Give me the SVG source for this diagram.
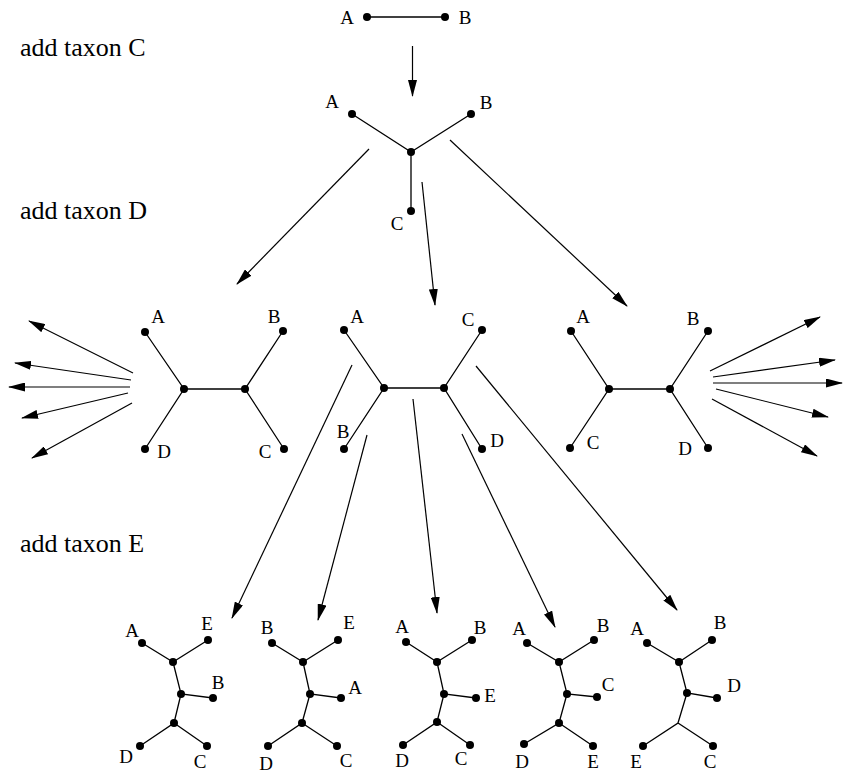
<svg xmlns="http://www.w3.org/2000/svg" width="844" height="774" viewBox="0 0 844 774">
  <style>
    .edge { stroke: #000; stroke-width: 1.3; fill: none; }
    .arrow { stroke: #000; stroke-width: 1.2; fill: none; marker-end: url(#head); }
    .dot { fill: #000; }
    .lbl { font-family: "Liberation Serif", "Times New Roman", serif; font-size: 19px; fill: #000; text-anchor: middle; }
    .step { font-family: "Liberation Serif", "Times New Roman", serif; font-size: 26px; fill: #000; }
  </style>
  <defs>
    <marker id="head" markerWidth="17" markerHeight="9" refX="16" refY="4.5" orient="auto" markerUnits="userSpaceOnUse">
      <path d="M0,0 L17,4.5 L0,9 Z" fill="#000"/>
    </marker>
  </defs>
  <rect width="844" height="774" fill="#fff"/>

  <!-- step captions -->
  <text class="step" x="20" y="56">add taxon C</text>
  <text class="step" x="20" y="219">add taxon D</text>
  <text class="step" x="20" y="552">add taxon E</text>

  <!-- two-taxon tree -->
  <g id="tree-ab">
    <line class="edge" x1="367" y1="17" x2="445" y2="17"/>
    <circle class="dot" cx="367" cy="17" r="4"/>
    <circle class="dot" cx="445" cy="17" r="4"/>
    <text class="lbl" x="347" y="24">A</text>
    <text class="lbl" x="465" y="24">B</text>
  </g>

  <!-- three-taxon tree -->
  <g id="tree-abc">
    <path class="edge" d="M352,114 L411,152 L471,114 M411,152 L411,211"/>
    <circle class="dot" cx="352" cy="114" r="4"/>
    <circle class="dot" cx="471" cy="114" r="4"/>
    <circle class="dot" cx="411" cy="152" r="4"/>
    <circle class="dot" cx="411" cy="211" r="4"/>
    <text class="lbl" x="332" y="108">A</text>
    <text class="lbl" x="486" y="109">B</text>
    <text class="lbl" x="397" y="230">C</text>
  </g>

  <!-- four-taxon trees -->
  <g id="tree-ad-bc">
    <path class="edge" d="M145,332 L184,389 L145,449 M184,389 L245,389 M283,331 L245,389 L284,449"/>
    <circle class="dot" cx="145" cy="332" r="4"/>
    <circle class="dot" cx="283" cy="331" r="4"/>
    <circle class="dot" cx="184" cy="389" r="4"/>
    <circle class="dot" cx="245" cy="389" r="4"/>
    <circle class="dot" cx="145" cy="449" r="4"/>
    <circle class="dot" cx="284" cy="449" r="4"/>
    <text class="lbl" x="158" y="323">A</text>
    <text class="lbl" x="274" y="323">B</text>
    <text class="lbl" x="164" y="458">D</text>
    <text class="lbl" x="265" y="458">C</text>
  </g>

  <g id="tree-ab-cd">
    <path class="edge" d="M344,330 L384,388 L344,449 M384,388 L444,388 M482,330 L444,388 L482,449"/>
    <circle class="dot" cx="344" cy="330" r="4"/>
    <circle class="dot" cx="482" cy="330" r="4"/>
    <circle class="dot" cx="384" cy="388" r="4"/>
    <circle class="dot" cx="444" cy="388" r="4"/>
    <circle class="dot" cx="344" cy="449" r="4"/>
    <circle class="dot" cx="482" cy="449" r="4"/>
    <text class="lbl" x="357" y="323">A</text>
    <text class="lbl" x="468" y="326">C</text>
    <text class="lbl" x="343" y="438">B</text>
    <text class="lbl" x="497" y="447">D</text>
  </g>

  <g id="tree-ac-bd">
    <path class="edge" d="M571,331 L609,389 L570,448 M609,389 L670,389 M708,331 L670,389 L708,448"/>
    <circle class="dot" cx="571" cy="331" r="4"/>
    <circle class="dot" cx="708" cy="331" r="4"/>
    <circle class="dot" cx="609" cy="389" r="4"/>
    <circle class="dot" cx="670" cy="389" r="4"/>
    <circle class="dot" cx="570" cy="448" r="4"/>
    <circle class="dot" cx="708" cy="448" r="4"/>
    <text class="lbl" x="583" y="323">A</text>
    <text class="lbl" x="693" y="325">B</text>
    <text class="lbl" x="593" y="449">C</text>
    <text class="lbl" x="685" y="455">D</text>
  </g>

  <!-- five-taxon trees -->
  <g id="tree-e1">
    <path class="edge" d="M142,643 L173,662 L208,640 M173,662 L181,694 L213,698 M181,694 L174,723 L140,746 M174,723 L207,746"/>
    <circle class="dot" cx="142" cy="643" r="4"/>
    <circle class="dot" cx="208" cy="640" r="4"/>
    <circle class="dot" cx="173" cy="662" r="4"/>
    <circle class="dot" cx="181" cy="694" r="4"/>
    <circle class="dot" cx="213" cy="698" r="4"/>
    <circle class="dot" cx="174" cy="723" r="4"/>
    <circle class="dot" cx="140" cy="746" r="4"/>
    <circle class="dot" cx="207" cy="746" r="4"/>
    <text class="lbl" x="132" y="637">A</text>
    <text class="lbl" x="207" y="630">E</text>
    <text class="lbl" x="218" y="689">B</text>
    <text class="lbl" x="126" y="763">D</text>
    <text class="lbl" x="200" y="768">C</text>
  </g>

  <g id="tree-e2">
    <path class="edge" d="M272,643 L303,662 L338,640 M303,662 L310,694 L341,698 M310,694 L302,723 L268,746 M302,723 L337,746"/>
    <circle class="dot" cx="272" cy="643" r="4"/>
    <circle class="dot" cx="338" cy="640" r="4"/>
    <circle class="dot" cx="303" cy="662" r="4"/>
    <circle class="dot" cx="310" cy="694" r="4"/>
    <circle class="dot" cx="341" cy="698" r="4"/>
    <circle class="dot" cx="302" cy="723" r="4"/>
    <circle class="dot" cx="268" cy="746" r="4"/>
    <circle class="dot" cx="337" cy="746" r="4"/>
    <text class="lbl" x="267" y="634">B</text>
    <text class="lbl" x="349" y="629">E</text>
    <text class="lbl" x="355" y="694">A</text>
    <text class="lbl" x="266" y="770">D</text>
    <text class="lbl" x="346" y="767">C</text>
  </g>

  <g id="tree-e3">
    <path class="edge" d="M406,642 L437,662 L472,640 M437,662 L444,694 L476,698 M444,694 L437,722 L403,745 M437,722 L470,745"/>
    <circle class="dot" cx="406" cy="642" r="4"/>
    <circle class="dot" cx="472" cy="640" r="4"/>
    <circle class="dot" cx="437" cy="662" r="4"/>
    <circle class="dot" cx="444" cy="694" r="4"/>
    <circle class="dot" cx="476" cy="698" r="4"/>
    <circle class="dot" cx="437" cy="722" r="4"/>
    <circle class="dot" cx="403" cy="745" r="4"/>
    <circle class="dot" cx="470" cy="745" r="4"/>
    <text class="lbl" x="402" y="633">A</text>
    <text class="lbl" x="480" y="634">B</text>
    <text class="lbl" x="490" y="702">E</text>
    <text class="lbl" x="402" y="767">D</text>
    <text class="lbl" x="461" y="765">C</text>
  </g>

  <g id="tree-e4">
    <path class="edge" d="M527,643 L559,662 L594,640 M559,662 L567,694 L597,697 M567,694 L559,723 L524,744 M559,723 L593,746"/>
    <circle class="dot" cx="527" cy="643" r="4"/>
    <circle class="dot" cx="594" cy="640" r="4"/>
    <circle class="dot" cx="559" cy="662" r="4"/>
    <circle class="dot" cx="567" cy="694" r="4"/>
    <circle class="dot" cx="597" cy="697" r="4"/>
    <circle class="dot" cx="559" cy="723" r="4"/>
    <circle class="dot" cx="524" cy="744" r="4"/>
    <circle class="dot" cx="593" cy="746" r="4"/>
    <text class="lbl" x="519" y="635">A</text>
    <text class="lbl" x="603" y="632">B</text>
    <text class="lbl" x="608" y="691">C</text>
    <text class="lbl" x="522" y="768">D</text>
    <text class="lbl" x="593" y="768">E</text>
  </g>

  <g id="tree-e5">
    <path class="edge" d="M647,643 L679,662 L712,640 M679,662 L687,693 L717,698 M687,693 L678,723 L643,746 M678,723 L713,746"/>
    <circle class="dot" cx="647" cy="643" r="4"/>
    <circle class="dot" cx="712" cy="640" r="4"/>
    <circle class="dot" cx="679" cy="662" r="4"/>
    <circle class="dot" cx="687" cy="693" r="4"/>
    <circle class="dot" cx="717" cy="698" r="4"/>
    <circle class="dot" cx="643" cy="746" r="4"/>
    <circle class="dot" cx="713" cy="746" r="4"/>
    <text class="lbl" x="637" y="635">A</text>
    <text class="lbl" x="720" y="629">B</text>
    <text class="lbl" x="734" y="692">D</text>
    <text class="lbl" x="636" y="768">E</text>
    <text class="lbl" x="710" y="768">C</text>
  </g>

  <!-- insertion arrows -->
  <g id="connectors">
    <line class="arrow" x1="412.5" y1="46" x2="412.5" y2="96"/>

    <line class="arrow" x1="369" y1="149" x2="237" y2="284"/>
    <line class="arrow" x1="422" y1="182" x2="435" y2="305"/>
    <line class="arrow" x1="450" y1="140" x2="627" y2="306"/>

    <line class="arrow" x1="133" y1="373" x2="29" y2="321"/>
    <line class="arrow" x1="131" y1="380" x2="15" y2="363"/>
    <line class="arrow" x1="130" y1="387" x2="9" y2="387"/>
    <line class="arrow" x1="128" y1="393" x2="22" y2="418"/>
    <line class="arrow" x1="132" y1="403" x2="32" y2="458"/>

    <line class="arrow" x1="710" y1="371" x2="820" y2="317"/>
    <line class="arrow" x1="713" y1="377" x2="835" y2="360"/>
    <line class="arrow" x1="713" y1="383" x2="842" y2="383"/>
    <line class="arrow" x1="716" y1="389" x2="828" y2="417"/>
    <line class="arrow" x1="712" y1="399" x2="817" y2="456"/>

    <line class="arrow" x1="352" y1="365" x2="232" y2="618"/>
    <line class="arrow" x1="367" y1="435" x2="318" y2="620"/>
    <line class="arrow" x1="413" y1="399" x2="437" y2="613"/>
    <line class="arrow" x1="462" y1="434" x2="555" y2="627"/>
    <line class="arrow" x1="476" y1="366" x2="677" y2="610"/>
  </g>
</svg>
